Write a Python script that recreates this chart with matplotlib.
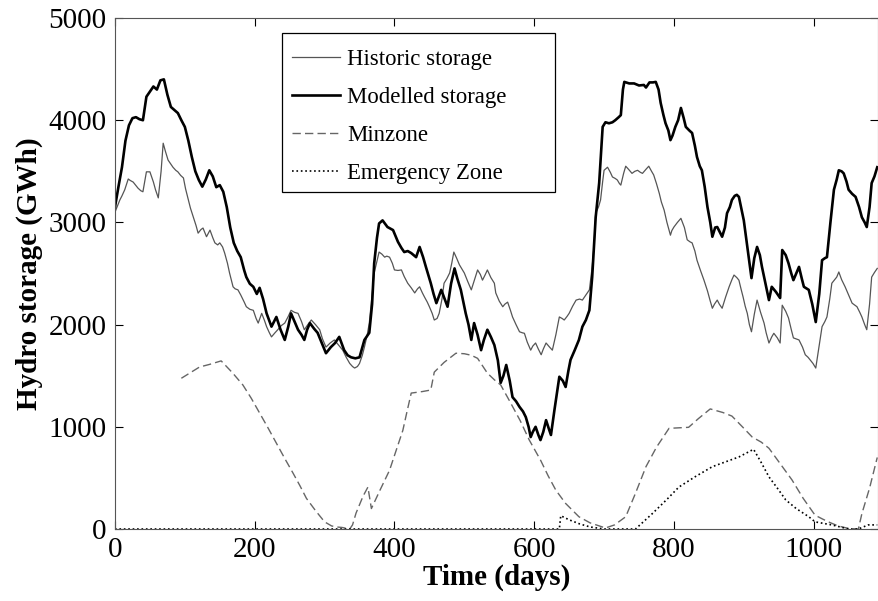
import matplotlib.pyplot as plt
from matplotlib.patches import Rectangle
import numpy as np

# Datos (días, GWh)
dias_modelado = [0, 5, 10, 15, 20, 25, 30, 35, 40, 45, 50, 55, 60, 65, 70, 75, 80, 85, 90, 95,
                 100, 105, 110, 115, 120, 125, 130, 135, 140, 145, 150, 155, 160, 165, 170, 175,
                 180, 185, 188, 193, 198, 203, 207, 212, 217, 224, 231, 237, 243, 248, 252, 257,
                 262, 267, 271, 275, 279, 285, 290, 296, 302, 309, 315, 321, 328, 333, 338, 344,
                 350, 357, 364, 368, 371, 375, 378, 383, 390, 398, 405, 410, 414, 419, 424, 431,
                 436, 441, 445, 452, 456, 460, 467, 472, 476, 481, 486, 490, 495, 502, 506, 510,
                 514, 519, 524, 528, 533, 538, 543, 548, 552, 556, 560, 565, 569, 574, 579, 584,
                 588, 592, 595, 598, 602, 606, 609, 613, 617, 621, 624, 629, 633, 636, 641, 645,
                 649, 652, 658, 664, 669, 674, 679, 683, 688, 693, 698, 702, 707, 712, 716, 721,
                 724, 727, 729, 736, 743, 750, 757, 760, 765, 770, 774, 778, 781, 785, 788, 792,
                 795, 798, 802, 806, 810, 814, 817, 822, 826, 830, 833, 837, 840, 844, 848, 852,
                 855, 859, 862, 866, 869, 873, 876, 880, 883, 887, 890, 893, 897, 900, 905, 908,
                 911, 915, 919, 923, 926, 931, 936, 940, 946, 952, 955, 960, 964, 968, 971, 975,
                 979, 983, 986, 993, 998, 1003, 1008, 1012, 1016, 1019, 1024, 1029, 1033, 1036,
                 1040, 1043, 1047, 1050, 1055, 1060, 1065, 1069, 1073, 1076, 1080, 1083, 1087, 1091]
almac_modelado = [3150, 3350, 3540, 3800, 3950, 4020, 4030, 4010, 4000, 4230, 4280, 4330, 4300,
                  4390, 4400, 4250, 4130, 4100, 4070, 4000, 3935, 3800, 3640, 3500, 3415, 3350,
                  3420, 3510, 3450, 3345, 3365, 3300, 3150, 2950, 2800, 2720, 2660, 2530, 2465,
                  2400, 2370, 2300, 2360, 2250, 2110, 1980, 2075, 1950, 1850, 1980, 2110, 2030,
                  1950, 1900, 1850, 1950, 2015, 1960, 1920, 1820, 1720, 1780, 1820, 1880, 1750,
                  1700, 1680, 1670, 1680, 1850, 1920, 2200, 2600, 2850, 2990, 3020, 2955, 2925,
                  2810, 2750, 2710, 2720, 2700, 2660, 2760, 2660, 2565, 2405, 2300, 2210, 2340,
                  2250, 2175, 2400, 2550, 2450, 2340, 2110, 2000, 1850, 2015, 1900, 1750, 1850,
                  1950, 1880, 1800, 1650, 1430, 1500, 1605, 1450, 1290, 1250, 1195, 1150, 1095,
                  1000, 900, 950, 1000, 920, 870, 950, 1065, 980, 920, 1165, 1350, 1490, 1450,
                  1390, 1550, 1655, 1750, 1850, 1980, 2045, 2140, 2465, 3050, 3385, 3935, 3980,
                  3970, 3980, 4000, 4030, 4050, 4300, 4375, 4360, 4360, 4340, 4345, 4320, 4370,
                  4370, 4375, 4300, 4170, 4050, 3970, 3900, 3805, 3850, 3935, 4000, 4120, 4020,
                  3935, 3900, 3875, 3750, 3640, 3550, 3510, 3350, 3150, 3000, 2860, 2950, 2955,
                  2900, 2860, 2950, 3090, 3150, 3220, 3260, 3270, 3250, 3120, 3020, 2760, 2600,
                  2455, 2650, 2760, 2680, 2565, 2400, 2240, 2370, 2320, 2260, 2730, 2680, 2600,
                  2500, 2435, 2500, 2565, 2450, 2370, 2340, 2200, 2025, 2300, 2630, 2650, 2660,
                  3000, 3320, 3420, 3510, 3500, 3480, 3400, 3320, 3280, 3250, 3150, 3050, 3000,
                  2955, 3150, 3385, 3450, 3540]

dias_historico = [0, 4, 7, 10, 14, 19, 22, 26, 30, 33, 37, 40, 45, 50, 55, 58, 62, 66, 69, 72,
                  76, 80, 83, 87, 90, 94, 98, 101, 105, 108, 112, 116, 119, 123, 126, 131, 136,
                  140, 143, 147, 150, 154, 157, 161, 164, 169, 172, 176, 180, 185, 188, 193, 198,
                  202, 205, 210, 214, 217, 221, 224, 229, 233, 238, 243, 248, 252, 257, 262, 267,
                  271, 276, 281, 287, 293, 297, 302, 308, 314, 320, 326, 331, 336, 340, 343, 347,
                  350, 354, 357, 361, 364, 368, 371, 375, 378, 382, 386, 389, 393, 397, 400, 405,
                  410, 414, 419, 424, 429, 433, 436, 440, 443, 447, 450, 454, 457, 461, 464, 468,
                  471, 475, 479, 482, 485, 489, 493, 497, 500, 505, 510, 515, 519, 523, 526, 530,
                  533, 538, 543, 545, 550, 555, 558, 562, 566, 569, 574, 579, 583, 586, 590, 595,
                  598, 602, 606, 610, 613, 617, 622, 626, 631, 636, 640, 643, 647, 650, 655, 660,
                  665, 669, 674, 679, 683, 686, 688, 692, 695, 698, 700, 705, 709, 712, 716, 719,
                  722, 724, 728, 731, 735, 740, 744, 748, 752, 755, 760, 764, 768, 771, 775, 779,
                  782, 786, 790, 795, 797, 800, 805, 810, 815, 819, 823, 826, 830, 833, 838, 843,
                  848, 852, 855, 858, 862, 865, 869, 874, 879, 883, 886, 890, 893, 896, 899, 902,
                  905, 908, 911, 915, 919, 924, 929, 932, 936, 940, 943, 948, 952, 955, 960, 964,
                  968, 971, 975, 979, 984, 988, 992, 995, 999, 1003, 1008, 1012, 1016, 1019, 1023,
                  1026, 1030, 1033, 1036, 1040, 1045, 1050, 1055, 1059, 1062, 1066, 1069, 1073,
                  1076, 1080, 1083, 1087, 1091]
almac_historico = [3100, 3170, 3220, 3260, 3320, 3425, 3410, 3395, 3360, 3335, 3310, 3300, 3495,
                   3495, 3395, 3320, 3240, 3500, 3775, 3700, 3610, 3570, 3540, 3510, 3495, 3460,
                   3435, 3330, 3220, 3140, 3055, 2970, 2895, 2930, 2945, 2860, 2925, 2850, 2800,
                   2780, 2800, 2760, 2700, 2600, 2505, 2370, 2350, 2340, 2290, 2220, 2175, 2150,
                   2140, 2060, 2015, 2110, 2040, 1980, 1920, 1880, 1920, 1950, 1990, 2015, 2080,
                   2140, 2120, 2110, 2030, 1950, 2000, 2045, 2000, 1950, 1860, 1780, 1820, 1850,
                   1800, 1750, 1680, 1620, 1590, 1575, 1590, 1620, 1700, 1780, 1900, 2015, 2300,
                   2505, 2620, 2710, 2690, 2660, 2670, 2660, 2600, 2535, 2530, 2535, 2470, 2405,
                   2360, 2310, 2350, 2370, 2310, 2270, 2220, 2175, 2110, 2045, 2060, 2110, 2250,
                   2405, 2450, 2505, 2600, 2710, 2650, 2585, 2540, 2505, 2420, 2340, 2450, 2535,
                   2490, 2435, 2490, 2535, 2460, 2405, 2310, 2230, 2175, 2200, 2220, 2140, 2075,
                   2000, 1930, 1920, 1915, 1830, 1750, 1790, 1820, 1760, 1705, 1760, 1820, 1780,
                   1750, 1900, 2075, 2060, 2045, 2080, 2110, 2180, 2240, 2250, 2240, 2290, 2340,
                   2565, 2800, 3090, 3150, 3220, 3400, 3510, 3540, 3490, 3445, 3430, 3415, 3380,
                   3365, 3480, 3550, 3520, 3480, 3500, 3510, 3490, 3480, 3520, 3550, 3500, 3465,
                   3380, 3285, 3200, 3120, 3000, 2875, 2920, 2955, 3000, 3040, 2950, 2830, 2810,
                   2800, 2720, 2630, 2530, 2435, 2330, 2230, 2160, 2200, 2240, 2200, 2160, 2270,
                   2370, 2440, 2485, 2460, 2435, 2350, 2270, 2180, 2110, 2000, 1930, 2100, 2240,
                   2120, 2015, 1920, 1820, 1880, 1915, 1870, 1820, 2190, 2130, 2065, 1950, 1870,
                   1860, 1850, 1780, 1705, 1680, 1655, 1620, 1575, 1800, 1980, 2030, 2075, 2250,
                   2405, 2440, 2465, 2515, 2440, 2370, 2290, 2210, 2190, 2175, 2120, 2075, 2000,
                   1950, 2200, 2465, 2510, 2550]

dias_minzone = [95, 108, 121, 135, 152, 168, 183, 195, 207, 219, 231, 243, 255, 265, 274, 287,
                300, 310, 317, 325, 336, 340, 345, 355, 362, 367, 380, 393, 402, 412, 418, 424,
                440, 452, 457, 471, 488, 500, 510, 519, 533, 543, 552, 565, 580, 593, 609, 620,
                631, 645, 664, 680, 702, 715, 731, 745, 760, 775, 793, 821, 835, 852, 870, 883,
                898, 912, 925, 936, 952, 969, 985, 1002, 1012, 1021, 1035, 1050, 1064, 1069,
                1080, 1091]
valores_minzone = [1475, 1530, 1585, 1610, 1645, 1530, 1410, 1280, 1135, 990, 840, 690, 545, 420,
                   300, 180, 70, 30, 20, 15, 0, 40, 155, 320, 410, 200, 390, 575, 760, 965, 1150,
                   1330, 1345, 1360, 1535, 1630, 1720, 1715, 1700, 1670, 1525, 1460, 1410, 1250,
                   1060, 870, 675, 520, 380, 250, 120, 60, 10, 40, 120, 350, 610, 800, 985, 995,
                   1080, 1175, 1140, 1105, 1000, 900, 850, 790, 640, 480, 300, 135, 100, 70, 30,
                   5, 0, 150, 400, 700]

dias_emergencia = [0, 636, 638, 650, 665, 680, 700, 745, 769, 790, 807, 830, 855, 875, 893, 914,
                   925, 936, 948, 960, 975, 993, 1002, 1026, 1050, 1064, 1078, 1091]
valores_emergencia = [0, 0, 130, 90, 50, 20, 0, 0, 150, 290, 410, 510, 610, 660, 705, 780, 650,
                      510, 400, 285, 200, 120, 70, 40, 0, 0, 40, 40]

# Fuente tipo Times
plt.rcParams['font.family'] = ['Liberation Serif', 'DejaVu Serif']

fig = plt.figure(figsize=(8.79, 6.01), dpi=100)
ax = fig.add_axes([0.1308, 0.1198, 0.8680, 0.8502])

ax.plot(dias_historico, almac_historico, color='#555555', lw=0.9, label='Historic storage')
ax.plot(dias_modelado, almac_modelado, color='black', lw=1.9, label='Modelled storage')
ax.plot(dias_minzone, valores_minzone, color='#666666', lw=1.0, dashes=(6, 3), label='Minzone')
ax.plot(dias_emergencia, valores_emergencia, color='black', lw=1.2, ls=':', label='Emergency Zone')

ax.set_xlim(0, 1092)
ax.set_ylim(0, 5000)
ax.set_xticks(np.arange(0, 1001, 200))
ax.set_yticks(np.arange(0, 5001, 1000))
ax.tick_params(direction='in', top=True, right=True, labelsize=21, length=6, pad=6)
for s in ax.spines.values():
    s.set_color('#555555')

ax.set_xlabel('Time (days)', fontsize=21, fontweight='bold', labelpad=0)
ax.set_ylabel('Hydro storage (GWh)', fontsize=21, fontweight='bold', labelpad=4)

# Caja de la leyenda dibujada a mano (más ancha que el texto, como en el original)
caja = Rectangle((0.3208, 0.6805), 0.3106, 0.2646, transform=fig.transFigure,
                 facecolor='white', edgecolor='black', lw=0.9, zorder=4)
ax.add_patch(caja)
caja.set_clip_on(False)

leg = ax.legend(loc='upper left', bbox_to_anchor=(0.219, 0.960), fontsize=16.4,
                handlelength=2.1, handletextpad=0.3, labelspacing=0.75,
                borderpad=0.45, borderaxespad=0, frameon=False)
leg.set_zorder(5)

plt.savefig('out.png', dpi=100)
